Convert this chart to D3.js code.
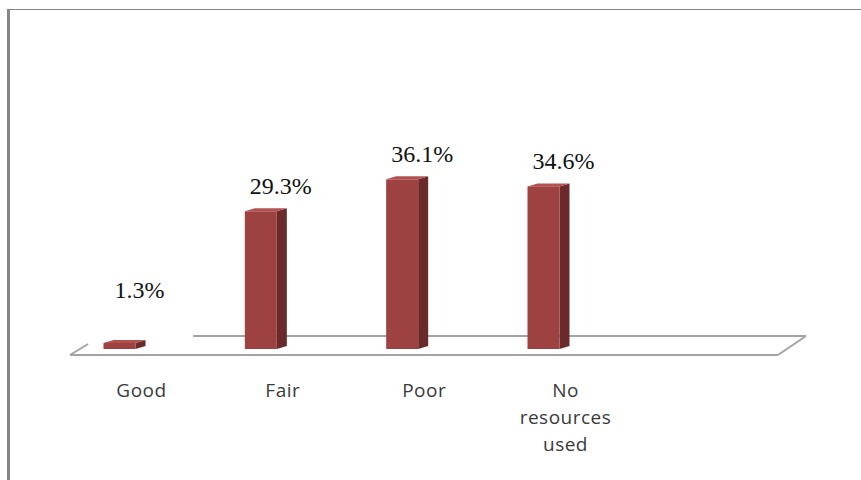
<!DOCTYPE html>
<html>
<head>
<meta charset="utf-8">
<script src="https://cdn.jsdelivr.net/npm/d3@7"></script>
<style>
  html, body { margin: 0; padding: 0; background: #fff; }
  svg { display: block; }
</style>
</head>
<body>
<svg id="chart" width="861" height="480"></svg>
<script>
// Ratings of resources used, share of respondents (%)
const categories = ["Good", "Fair", "Poor", "No resources used"];
const categoryLines = [["Good"], ["Fair"], ["Poor"], ["No", "resources", "used"]];
const values = [1.3, 29.3, 36.1, 34.6];
const valueLabels = ["1.3%", "29.3%", "36.1%", "34.6%"];

const svg = d3.select("#chart");
const W = 861, H = 480;

// frame around the plot area
svg.append("rect").attr("x", 7).attr("y", 9).attr("width", 3).attr("height", H - 9).attr("fill", "#858585");
svg.append("rect").attr("x", 7).attr("y", 9).attr("width", W - 7).attr("height", 1).attr("fill", "#858585");

const baseY = 349;
const y = d3.scaleLinear().domain([0, 40]).range([baseY, baseY - 188]);
const x = d3.scalePoint().domain(categories).range([119.5, 543.5]);

const barW = 32, depthX = 10, depthY = 3;

// 3D floor plane
const floor = svg.append("g").attr("fill", "none").attr("stroke", "#a3a3a3").attr("stroke-width", 2);
floor.append("line").attr("x1", 193).attr("y1", 336).attr("x2", 806).attr("y2", 336);
floor.append("line").attr("x1", 70).attr("y1", 355).attr("x2", 778).attr("y2", 355);
floor.append("line").attr("x1", 70).attr("y1", 355).attr("x2", 88).attr("y2", 344);
floor.append("line").attr("x1", 778).attr("y1", 355).attr("x2", 806).attr("y2", 336);

const data = categories.map((c, i) => ({ c, v: values[i], label: valueLabels[i], lines: categoryLines[i] }));

const bars = svg.append("g").selectAll("g").data(data).join("g");

// side face
bars.append("polygon")
  .attr("fill", "#6b2a2a")
  .attr("points", d => {
    const x1 = x(d.c) + barW / 2, yt = y(d.v);
    return [[x1, yt], [x1 + depthX, yt - depthY], [x1 + depthX, baseY - depthY], [x1, baseY]].join(" ");
  });
// top face
bars.append("polygon")
  .attr("fill", "#b35151")
  .attr("points", d => {
    const x0 = x(d.c) - barW / 2, yt = y(d.v);
    return [[x0, yt], [x0 + depthX, yt - depthY], [x0 + barW + depthX, yt - depthY], [x0 + barW, yt]].join(" ");
  });
// front face
bars.append("rect")
  .attr("fill", "#9e4141")
  .attr("x", d => x(d.c) - barW / 2)
  .attr("y", d => y(d.v))
  .attr("width", barW)
  .attr("height", d => baseY - y(d.v));

// value labels, kept clear of the floor
svg.append("g").selectAll("text").data(data).join("text")
  .attr("x", d => x(d.c) + 20)
  .attr("y", d => Math.min(y(d.v) - 17, 298))
  .attr("text-anchor", "middle")
  .attr("font-family", "'Liberation Serif', 'Times New Roman', serif")
  .attr("font-size", 24)
  .attr("fill", "#111")
  .text(d => d.label);

// category labels
const cat = svg.append("g").selectAll("text").data(data).join("text")
  .attr("x", d => x(d.c) + 22)
  .attr("y", 397)
  .attr("text-anchor", "middle")
  .attr("font-family", "'Open Sans', sans-serif")
  .attr("font-size", 19)
  .attr("letter-spacing", 0.5)
  .attr("fill", "#3a3a3a");
cat.selectAll("tspan").data(d => d.lines.map(t => ({ t, cx: x(d.c) + 22 }))).join("tspan")
  .attr("x", t => t.cx)
  .attr("dy", (t, i) => i === 0 ? 0 : 27)
  .text(t => t.t);
</script>
</body>
</html>
